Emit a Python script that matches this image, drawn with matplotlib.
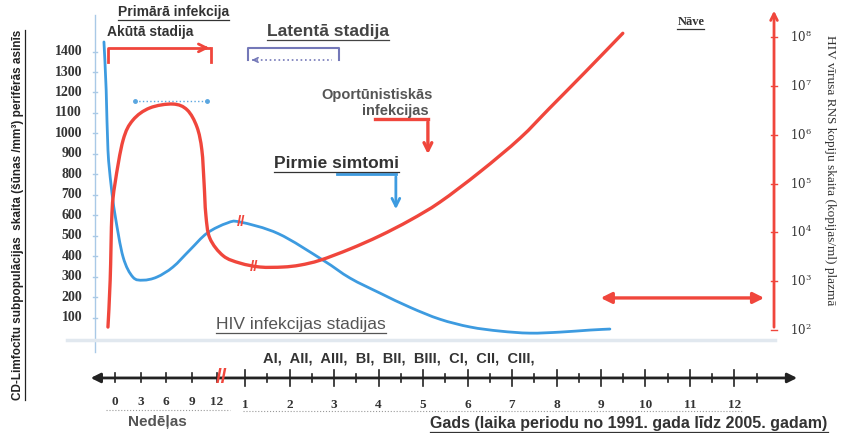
import numpy as np
import matplotlib
matplotlib.use("Agg")
import matplotlib.pyplot as plt
from matplotlib.lines import Line2D
from matplotlib.patches import FancyArrowPatch, PathPatch
from matplotlib.path import Path

# laiks: gadu skalas vienības (1 = 1. gads), nedēļas pirms pārtraukuma
# CD4 limfocīti (šūnas/mm3) - zilā līkne
cd4_t = [-2.17, -2.12, -2.08, -2.01, -1.92, -1.74, -1.52, -1.29, -0.98, -0.62,
         -0.24, 0.15, 0.60, 0.89, 1.75, 2.75, 3.36, 4.03, 4.71,
         5.38, 6.06, 6.73, 7.40, 8.08, 8.75, 9.20]
cd4_v = [1447, 1212, 919, 748, 601, 396, 298, 283, 298, 347,
         430, 513, 562, 567, 510, 381, 293, 220, 150,
         92, 54, 34, 24, 29, 39, 44]
# HIV RNS (log10 kopijas/ml) - sarkanā līkne
rna_t = [-2.08, -2.03, -1.99, -1.92, -1.74, -1.52, -1.14, -0.62, -0.30, -0.08,
         0.03, 0.08, 0.12, 0.21, 0.51, 0.89, 1.34, 1.85, 2.24, 2.69,
         3.36, 4.03, 4.71, 5.38, 6.28, 7.18, 7.85, 8.64, 9.49]
rna_v = [2.06, 3.02, 4.40, 5.01, 5.89, 6.30, 6.55, 6.63, 6.51, 6.16,
         5.69, 5.01, 4.36, 3.88, 3.52, 3.37, 3.29, 3.29, 3.33, 3.43,
         3.66, 3.93, 4.25, 4.62, 5.24, 5.93, 6.55, 7.28, 8.08]

cd4_ticks = [100, 200, 300, 400, 500, 600, 700, 800, 900, 1000, 1100, 1200, 1300, 1400]
rna_ticks = [2, 3, 4, 5, 6, 7, 8]
weeks = [0, 3, 6, 9, 12]
years = [1, 2, 3, 4, 5, 6, 7, 8, 9, 10, 11, 12]
stages = "AI,  AII,  AIII,  BI,  BII,  BIII,  CI,  CII,  CIII,"

RED = "#f0463c"
BLUE = "#3d9be0"
TXT = "#333333"
SANS = ["Liberation Sans", "DejaVu Sans"]
SERIF = ["Liberation Serif", "DejaVu Serif"]


def week_x(w):
    return -1.921 + w * 0.191


def smooth_curve(a, xs, ys, **kw):
    # Catmull-Rom caur nolasītajiem punktiem, zīmēts kā Bezjē ceļš datu koordinātēs
    p = np.column_stack([xs, ys]).astype(float)
    n = len(p)
    verts = [p[0]]
    codes = [Path.MOVETO]
    for i in range(n - 1):
        p0 = p[i - 1] if i > 0 else p[i]
        p3 = p[i + 2] if i + 2 < n else p[i + 1]
        verts += [p[i] + (p[i + 1] - p0) / 6, p[i + 1] - (p3 - p[i]) / 6, p[i + 1]]
        codes += [Path.CURVE4] * 3
    a.add_patch(PathPatch(Path(verts, codes), fill=False, capstyle="round",
                          joinstyle="round", **kw))


fig = plt.figure(figsize=(8.55, 4.33), dpi=100)
ax = fig.add_axes([0, 0, 1, 1])
ax.set_xlim(-4.506, 14.708)
ax.set_ylim(-464, 1652)
ax.axis("off")
ax2 = ax.twinx()
ax2.set_ylim(-0.111, 8.762)
ax2.axis("off")

# kreisā ass un bāzes līnija
ax.plot([-2.371, -2.371], [-68, 1579], color="#a9c9e6", lw=1)
ax.plot([-3.0, 12.9], [-10, -10], color="#e1e8ef", lw=2.5)
for v in cd4_ticks:
    ax.plot([-2.42, -2.33], [v, v], color="#a9c9e6", lw=1)
    ax.text(-2.66, v, str(v), ha="right", va="center", fontsize=10,
            fontweight="bold", family=SERIF, color=TXT)

# labā (sarkanā) ass
ax2.annotate("", xy=(12.888, 8.6), xytext=(12.888, 2.0),
             arrowprops=dict(arrowstyle="->", color=RED, lw=2, mutation_scale=12))
for v in rna_ticks:
    ax2.plot([12.82, 12.96], [v, v], color=RED, lw=1)
    ax2.text(13.25, v, rf"$10^{{{v}}}$", ha="left", va="center",
             fontsize=8.5, color=TXT, math_fontfamily="dejavuserif")

# līknes
smooth_curve(ax, cd4_t, cd4_v, edgecolor=BLUE, lw=2, zorder=3)
smooth_curve(ax2, rna_t, rna_v, edgecolor=RED, lw=2.4, zorder=4)
ax.text(0.92, 567, "//", color=RED, fontsize=11, fontweight="bold",
        ha="center", va="center", family=SANS, zorder=5)
ax2.text(1.20, 3.30, "//", color=RED, fontsize=11, fontweight="bold",
         ha="center", va="center", family=SANS, zorder=5)

# laika ass apakšā
Y0 = -195
ax.add_patch(FancyArrowPatch((-2.53, Y0), (13.47, Y0), arrowstyle="<|-|>",
                             mutation_scale=14, color="#222222", lw=2))
for w in weeks:
    ax.plot([week_x(w)] * 2, [Y0 - 22, Y0 + 22], color="#222222", lw=1.2)
    ax.text(week_x(w), -313, str(w), ha="center", va="center", fontsize=9.5,
            family=SERIF, fontweight="bold", color=TXT)
for y in years:
    ax.plot([y, y], [Y0 - 39, Y0 + 39], color="#222222", lw=1.2)
    ax.plot([y + 0.5] * 2, [Y0 - 20, Y0 + 20], color="#222222", lw=1.2)
    ax.text(y, -327, str(y), ha="center", va="center", fontsize=9.5,
            family=SERIF, fontweight="bold", color=TXT)
ax.text(0.483, Y0, "//", color=RED, fontsize=15, fontweight="bold",
        ha="center", va="center", family=SANS, zorder=6)
ax.plot([week_x(0) - 0.2, week_x(12) + 0.3], [-352, -352], color="#9a9a9a", lw=0.8, ls=":")
ax.plot([0.95, 12.2], [-357, -357], color="#9a9a9a", lw=0.8, ls=":")

# bultas un iekavas
ax.plot([-2.079, -2.079, 0.20], [1349, 1418, 1418], color=RED, lw=2)
ax.annotate("", xy=(0.26, 1418), xytext=(0.0, 1418),
            arrowprops=dict(arrowstyle="->", color=RED, lw=2, mutation_scale=14))
ax.plot([0.236, 0.236], [1418, 1349], color=RED, lw=2)
ax.plot([-1.47, 0.15], [1158, 1158], color="#5aa6e0", lw=1, ls=":",
        marker="o", markersize=2.5, markevery=[0, 1])
ax.plot([1.07, 1.07, 3.11, 3.11], [1359, 1418, 1418, 1359], color="#7478b8", lw=1.5)
ax.plot([1.15, 2.95], [1359, 1359], color="#7478b8", lw=1.2, ls=":")
ax.annotate("", xy=(1.09, 1359), xytext=(1.3, 1359),
            arrowprops=dict(arrowstyle="->", color="#7478b8", lw=1.2, mutation_scale=8))
ax.plot([3.92, 5.11], [1070, 1070], color=RED, lw=2.4)
ax.annotate("", xy=(5.11, 885), xytext=(5.11, 1070),
            arrowprops=dict(arrowstyle="->", color=RED, lw=2.4, mutation_scale=14))
ax.plot([3.07, 4.39], [802, 802], color=BLUE, lw=2)
ax.annotate("", xy=(4.39, 616), xytext=(4.39, 802),
            arrowprops=dict(arrowstyle="->", color=BLUE, lw=2, mutation_scale=14))
ax.add_patch(FancyArrowPatch((8.93, 196), (12.73, 196), arrowstyle="<|-|>",
                             mutation_scale=16, color=RED, lw=2.4))

# teksti
under = []
under.append(ax.text(-0.60, 1593, "Primārā infekcija", ha="center", va="center",
                     fontsize=10, fontweight="bold", family=SANS, color=TXT))
ax.text(-2.10, 1496, "Akūtā stadija", ha="left", va="center",
        fontsize=10, fontweight="bold", family=SANS, color=TXT)
under.append(ax.text(2.865, 1496, "Latentā stadija", ha="center", va="center",
                     fontsize=12.5, fontweight="bold", family=SANS, color="#444444"))
ax.text(3.97, 1188, "Oportūnistiskās", ha="center", va="center",
        fontsize=10.5, fontweight="bold", family=SANS, color="#555555")
ax.text(4.38, 1112, "infekcijas", ha="center", va="center",
        fontsize=10.5, fontweight="bold", family=SANS, color="#555555")
under.append(ax.text(3.045, 855, "Pirmie simtomi", ha="center", va="center",
                     fontsize=12.5, fontweight="bold", family=SANS, color=TXT))
under.append(ax.text(11.02, 1545, "Nāve", ha="center", va="center",
                     fontsize=9, fontweight="bold", family=SERIF, color=TXT))
under.append(ax.text(2.26, 64, "HIV infekcijas stadijas", ha="center", va="center",
                     fontsize=12.5, family=SANS, color="#555555"))
ax.text(4.46, -98, stages, ha="center", va="center",
        fontsize=10.5, fontweight="bold", family=SANS, color=TXT)
ax.text(-0.98, -411, "Nedēļas", ha="center", va="center",
        fontsize=11, fontweight="bold", family=SANS, color="#555555")
under.append(ax.text(9.63, -420, "Gads (laika periodu no 1991. gada līdz 2005. gadam)",
                     ha="center", va="center", fontsize=11.5, fontweight="bold",
                     family=SANS, color=TXT))
ylab = ax.text(-4.10, 601,
               "CD-Limfocītu subpopulācijas  skaita (šūnas /mm³) perifērās asinīs",
               rotation=90, ha="center", va="center", fontsize=9.5, fontweight="bold",
               family=SANS, color="#222222")
ax.text(14.15, 821, "HIV vīrusa RNS kopiju skaita (kopijas/ml) plazmā",
        rotation=-90, ha="center", va="center", fontsize=9.5,
        family=SERIF, color=TXT)

# pasvītrojumi
fig.canvas.draw()
r = fig.canvas.get_renderer()
# kreisā ass nosaukums jāiekļauj ~370 px augstumā
bb = ylab.get_window_extent(r)
ylab.set_fontsize(9.5 * 368 / bb.height)
fig.canvas.draw()
inv = fig.transFigure.inverted()
for t in under:
    bb = t.get_window_extent(r)
    (x0, y0), (x1, _) = inv.transform([(bb.x0, bb.y0 - 1), (bb.x1, bb.y0 - 1)])
    fig.add_artist(Line2D([x0, x1], [y0, y0], transform=fig.transFigure,
                          color=t.get_color(), lw=0.9))
bb = ylab.get_window_extent(r)
(x0, y0), (_, y1) = inv.transform([(bb.x1 + 1, bb.y0), (bb.x1 + 1, bb.y1)])
fig.add_artist(Line2D([x0, x0], [y0, y1], transform=fig.transFigure,
                      color="#222222", lw=0.9))

fig.savefig("out.png", dpi=100)
